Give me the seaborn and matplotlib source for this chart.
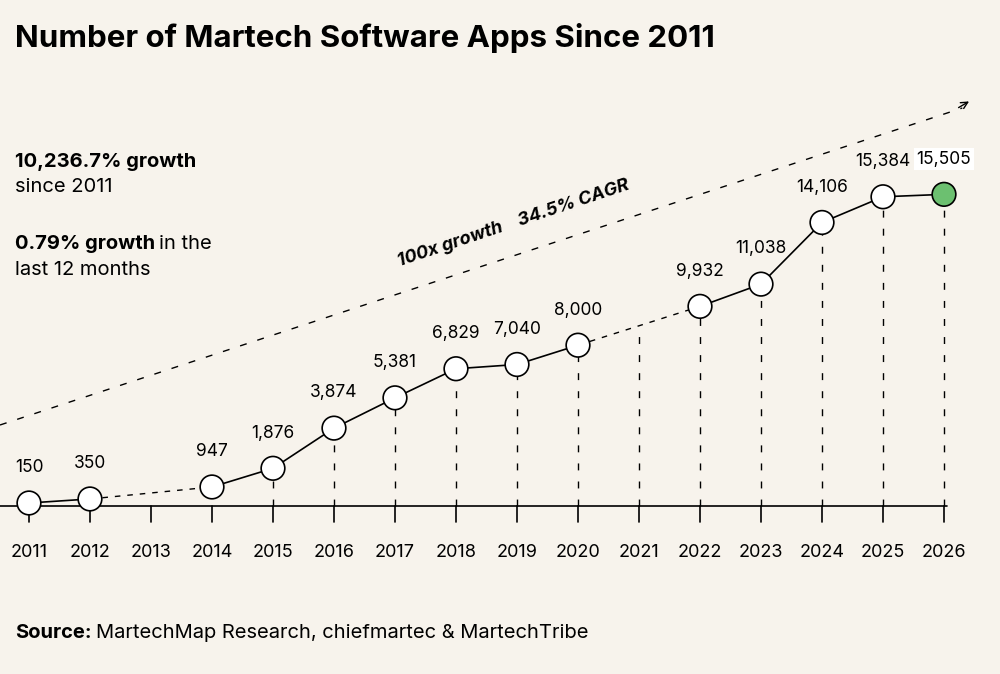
import matplotlib
matplotlib.use("Agg")
import matplotlib.pyplot as plt
import seaborn as sns
import pandas as pd
import numpy as np

years = [2011, 2012, 2014, 2015, 2016, 2017, 2018, 2019, 2020, 2022, 2023, 2024, 2025, 2026]
apps = [150, 350, 947, 1876, 3874, 5381, 6829, 7040, 8000, 9932, 11038, 14106, 15384, 15505]
labels = ["150", "350", "947", "1,876", "3,874", "5,381", "6,829", "7,040", "8,000",
          "9,932", "11,038", "14,106", "15,384", "15,505"]
tick_years = list(range(2011, 2027))
solid_groups = [[2011, 2012], [2014, 2015, 2016, 2017, 2018, 2019, 2020], [2022, 2023, 2024, 2025, 2026]]
dashed_groups = [[2012, 2014], [2020, 2022]]

BG = "#f7f3ec"
sns.set_theme(style="white")
plt.rcParams['font.family'] = ['Inter', 'DejaVu Sans']

df = pd.DataFrame({"year": years, "apps": apps, "label": labels})

fig = plt.figure(figsize=(10, 6.74), dpi=100, facecolor=BG)
ax = fig.add_axes([0, 0, 1, 1])
ax.set_facecolor(BG)
ax.set_xlim(2010.525, 2026.918)
ax.set_ylim(-8358, 25174)
ax.axis("off")

ax.plot([2010.525, 2026.05], [0, 0], color="black", lw=1.2, zorder=2)
for y in tick_years:
    ax.plot([y, y], [0, -800], color="black", lw=1.2, zorder=2)
    ax.text(y, -2300, str(y), ha="center", va="center", fontsize=13, color="black")

for y, v in zip(years, apps):
    if v > 1000:
        ax.plot([y, y], [0, v], color="black", lw=1, ls=(0, (5, 8)), zorder=1)
ax.plot([2021, 2021], [0, 8960], color="black", lw=1, ls=(0, (5, 8)), zorder=1)

for g in solid_groups:
    sub = df[df.year.isin(g)]
    sns.lineplot(data=sub, x="year", y="apps", ax=ax, color="black", lw=1.2, zorder=3)
for g in dashed_groups:
    sub = df[df.year.isin(g)]
    sns.lineplot(data=sub, x="year", y="apps", ax=ax, color="black", lw=1, ls=(0, (4, 5)), zorder=3)

colors = ["white"] * (len(years) - 1) + ["#6cc070"]
ax.scatter(years, apps, s=290, c=colors, edgecolors="black", linewidths=1.2, zorder=4)

for y, v, l in zip(years, apps, labels):
    kw = {}
    if y == 2026:
        kw = dict(bbox=dict(boxstyle="square,pad=0.15", fc="white", ec="none"))
    ax.text(y, v + 1750, l, ha="center", va="center", fontsize=12.5, color="black", zorder=5, **kw)

tx = np.linspace(2010.525, 2026.3, 50)
ty = 4030 + (tx - 2010.525) / (2026.3 - 2010.525) * (19800 - 4030)
ax.plot(tx, ty, color="black", lw=1, ls=(0, (5, 8)))
ax.annotate("", xy=(2026.45, 20200), xytext=(2026.2, 19750),
            arrowprops=dict(arrowstyle="->", color="black", lw=1))
ax.text(2018.95, 14050, "100x growth    34.5% CAGR", rotation=18.5, ha="center", va="center",
        fontsize=13, fontweight="bold", style="italic", color="black")

fig.text(0.015, 0.943, "Number of Martech Software Apps Since 2011", fontsize=22.5,
         fontweight="bold", va="center", ha="left", color="black")
fig.text(0.015, 0.759, "10,236.7% growth", fontsize=14.5, fontweight="bold", va="center", color="black")
fig.text(0.015, 0.722, "since 2011", fontsize=14.5, va="center", color="black")
t = fig.text(0.015, 0.638, "0.79% growth", fontsize=14.5, fontweight="bold", va="center", color="black")
fig.canvas.draw()
bb = t.get_window_extent()
fig.text(bb.x1 / 1000 + 0.004, 0.638, "in the", fontsize=14.5, va="center", color="black")
fig.text(0.015, 0.600, "last 12 months", fontsize=14.5, va="center", color="black")
s = fig.text(0.015, 0.061, "Source:", fontsize=14.5, fontweight="bold", va="center", color="black")
fig.canvas.draw()
bb = s.get_window_extent()
fig.text(bb.x1 / 1000 + 0.004, 0.061, "MartechMap Research, chiefmartec & MartechTribe",
         fontsize=14.5, va="center", color="black")

fig.savefig("out.png", dpi=100, facecolor=BG)
